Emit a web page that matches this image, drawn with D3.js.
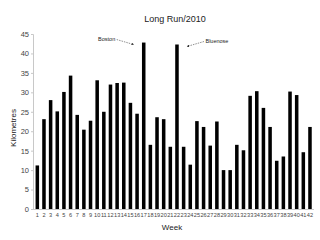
<!DOCTYPE html>
<html lang="en">
<head>
<meta charset="UTF-8">
<title>Long Run/2010</title>
<style>
  html, body { margin: 0; padding: 0; background: #fff; }
  svg { display: block; font-family: "Liberation Sans", Arial, sans-serif; }
</style>
</head>
<body>
<svg id="chart"></svg>
<script src="https://cdnjs.cloudflare.com/ajax/libs/d3/7.8.5/d3.min.js"></script>
<script>
// data
const weeks = d3.range(1, 43);
const km = [11.2, 23.1, 28, 25.1, 30.1, 34.3, 24.2, 20.4, 22.7, 33.1,
            25, 32, 32.4, 32.5, 27.3, 24.5, 42.8, 16.5, 23.6, 23.1,
            16, 42.3, 16, 11.4, 22.6, 21.1, 16.3, 22.5, 10, 10,
            16.5, 15.1, 29.1, 30.3, 26, 21.1, 12.4, 13.5, 30.2, 29.3,
            14.6, 21.1];
const yTicks = [0, 5, 10, 15, 20, 25, 30, 35, 40, 45];
const notes = [{ week: 17, text: "Boston", side: -1 }, { week: 22, text: "Bluenose", side: 1 }];

const width = 320, height = 240;
const svg = d3.select('#chart').attr('width', width).attr('height', height);

const x = d3.scaleBand()
  .domain(weeks)
  .range([34, 313.3])
  .paddingInner(0.47)
  .paddingOuter(0.235);

const y = d3.scaleLinear().domain([0, 45]).range([209, 34]);

// y axis
const yAxis = svg.append('g')
  .attr('transform', 'translate(33,0)')
  .call(d3.axisLeft(y).tickValues(yTicks).tickSize(2).tickPadding(2));
yAxis.select('.domain').attr('stroke', '#c8c8c8');
yAxis.selectAll('.tick line').attr('stroke', '#c8c8c8');
yAxis.selectAll('.tick text').attr('font-size', 7.5).attr('fill', '#444')
  .attr('font-family', '"Liberation Sans", Arial, sans-serif');

// x axis
const xAxis = svg.append('g')
  .attr('transform', 'translate(0,209)')
  .call(d3.axisBottom(x).tickSize(0).tickPadding(4));
xAxis.select('.domain').attr('stroke', '#c8c8c8').attr('d', 'M33,0.5H314');
xAxis.selectAll('.tick text').attr('font-size', 5.6).attr('fill', '#444')
  .attr('font-family', '"Liberation Sans", Arial, sans-serif');

// bars
svg.append('g').selectAll('rect')
  .data(km)
  .join('rect')
  .attr('x', (d, i) => x(weeks[i]))
  .attr('width', x.bandwidth())
  .attr('y', d => y(d))
  .attr('height', d => y(0) - y(d))
  .attr('fill', '#000');

// titles
svg.append('text').attr('x', 175).attr('y', 22).attr('text-anchor', 'middle')
  .attr('font-size', 9).attr('fill', '#222').text('Long Run/2010');
svg.append('text').attr('x', 172).attr('y', 230).attr('text-anchor', 'middle')
  .attr('font-size', 8).attr('fill', '#222').text('Week');
svg.append('text').attr('transform', 'translate(16,128) rotate(-90)')
  .attr('text-anchor', 'middle').attr('font-size', 8).attr('fill', '#222').text('Kilometres');

// annotations
svg.append('defs').append('marker')
  .attr('id', 'arrow').attr('viewBox', '0 0 10 10').attr('refX', 9).attr('refY', 5)
  .attr('markerWidth', 4).attr('markerHeight', 4).attr('orient', 'auto')
  .append('path').attr('d', 'M0,0L10,5L0,10z').attr('fill', '#222');

notes.forEach(n => {
  const i = weeks.indexOf(n.week);
  const cx = x(n.week) + x.bandwidth() / 2;
  const top = y(km[i]);
  const tipX = cx + n.side * 10, tipY = top + 2;
  const startX = cx + n.side * 27, startY = top - 3;
  svg.append('line')
    .attr('x1', startX).attr('y1', startY).attr('x2', tipX).attr('y2', tipY)
    .attr('stroke', '#444').attr('stroke-width', 0.6).attr('stroke-dasharray', '1.5,1')
    .attr('marker-end', 'url(#arrow)');
  svg.append('text')
    .attr('x', startX + n.side * 1.5).attr('y', startY + 1.5)
    .attr('text-anchor', n.side < 0 ? 'end' : 'start')
    .attr('font-size', 5.5).attr('fill', '#222').text(n.text);
});
</script>
</body>
</html>
